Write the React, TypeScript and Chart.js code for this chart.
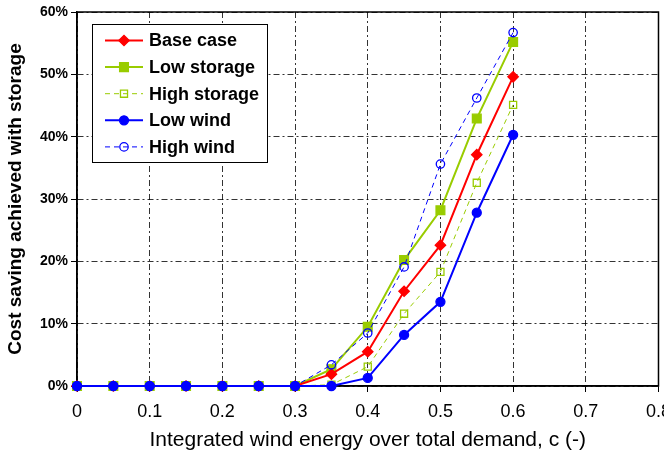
import React, { useEffect, useRef } from 'react';
import { Chart, registerables } from 'chart.js';

Chart.register(...registerables);

const xValues = [0, 0.05, 0.1, 0.15, 0.2, 0.25, 0.3, 0.35, 0.4, 0.45, 0.5, 0.55, 0.6];
const baseCase = [0, 0, 0, 0, 0, 0, 0, 1.9, 5.5, 15.2, 22.6, 37.1, 49.6];
const lowStorage = [0, 0, 0, 0, 0, 0, 0, 2.7, 9.5, 20.2, 28.2, 42.9, 55.2];
const highStorage = [0, 0, 0, 0, 0, 0, 0, 0.2, 3.1, 11.6, 18.3, 32.6, 45.1];
const lowWind = [0, 0, 0, 0, 0, 0, 0, 0, 1.3, 8.2, 13.5, 27.8, 40.3];
const highWind = [0, 0, 0, 0, 0, 0, 0, 3.4, 8.5, 19.1, 35.6, 46.2, 56.7];
const seriesNames = ['Base case', 'Low storage', 'High storage', 'Low wind', 'High wind'];
const xTickValues = [0, 0.1, 0.2, 0.3, 0.4, 0.5, 0.6, 0.7, 0.8];
const yTickValues = [0, 10, 20, 30, 40, 50, 60];
const xTitle = 'Integrated wind energy over total demand, c (-)';
const yTitle = 'Cost saving achieved with storage';

const RED = '#ff0000';
const GREEN = '#99cc00';
const BLUE = '#0000ff';
const FONT = 'Arial, "Liberation Sans", sans-serif';

type Style = {
  color: string;
  width: number;
  dash: number[];
  marker: 'rectRot' | 'rect' | 'circle';
  radius: number;
  filled: boolean;
};

const styles: Style[] = [
  { color: RED, width: 2, dash: [], marker: 'rectRot', radius: 5.2, filled: true },
  { color: GREEN, width: 2, dash: [], marker: 'rect', radius: 6.2, filled: true },
  { color: GREEN, width: 1, dash: [5, 4], marker: 'rect', radius: 5, filled: false },
  { color: BLUE, width: 2, dash: [], marker: 'circle', radius: 4.5, filled: true },
  { color: BLUE, width: 1, dash: [5, 4], marker: 'circle', radius: 4.2, filled: false },
];

const seriesData = [baseCase, lowStorage, highStorage, lowWind, highWind];
const drawOrder = [3, 4, 5, 1, 2];

function drawMarker(ctx: CanvasRenderingContext2D, s: Style, x: number, y: number) {
  ctx.save();
  ctx.setLineDash([]);
  ctx.lineWidth = 1.3;
  ctx.strokeStyle = s.color;
  ctx.fillStyle = s.filled ? s.color : 'rgba(255,255,255,0)';
  ctx.beginPath();
  const r = s.radius;
  if (s.marker === 'circle') {
    ctx.arc(x, y, r, 0, Math.PI * 2);
  } else if (s.marker === 'rect') {
    const h = r * Math.SQRT1_2;
    ctx.rect(x - h, y - h, 2 * h, 2 * h);
  } else {
    ctx.moveTo(x - r, y);
    ctx.lineTo(x, y - r);
    ctx.lineTo(x + r, y);
    ctx.lineTo(x, y + r);
    ctx.closePath();
  }
  if (s.filled) ctx.fill();
  ctx.stroke();
  ctx.restore();
}

const frameAndLegend = {
  id: 'frameAndLegend',
  beforeDatasetsDraw(chart: any) {
    const ctx: CanvasRenderingContext2D = chart.ctx;
    const a = chart.chartArea;
    ctx.save();
    ctx.strokeStyle = '#000';
    ctx.lineWidth = 1.5;
    ctx.setLineDash([]);
    ctx.strokeRect(a.left, a.top, a.right - a.left, a.bottom - a.top);
    ctx.restore();
  },
  afterDraw(chart: any) {
    const ctx: CanvasRenderingContext2D = chart.ctx;
    const a = chart.chartArea;
    ctx.save();
    const bx = a.left + 15;
    const by = a.top + 12;
    const bw = 175;
    const bh = 138;
    ctx.fillStyle = '#fff';
    ctx.fillRect(bx, by, bw, bh);
    ctx.strokeStyle = '#000';
    ctx.lineWidth = 1;
    ctx.setLineDash([]);
    ctx.strokeRect(bx + 0.5, by + 0.5, bw, bh);

    ctx.font = `bold 18px ${FONT}`;
    ctx.textBaseline = 'middle';
    ctx.textAlign = 'left';
    seriesNames.forEach((name, i) => {
      const s = styles[i];
      const cy = by + 16.5 + i * 26.6;
      ctx.save();
      ctx.strokeStyle = s.color;
      ctx.lineWidth = s.width;
      ctx.setLineDash(s.dash);
      ctx.beginPath();
      ctx.moveTo(bx + 13, cy);
      ctx.lineTo(bx + 51, cy);
      ctx.stroke();
      ctx.restore();
      drawMarker(ctx, s, bx + 32, cy);
      ctx.fillStyle = '#000';
      ctx.fillText(name, bx + 57, cy + 1);
    });
    ctx.restore();
  },
};

export default function App() {
  const ref = useRef<HTMLCanvasElement | null>(null);

  useEffect(() => {
    if (!ref.current) return;
    const datasets = seriesNames.map((name, i) => {
      const s = styles[i];
      return {
        label: name,
        data: xValues.map((x, j) => ({ x, y: seriesData[i][j] })),
        borderColor: s.color,
        borderWidth: s.width,
        borderDash: s.dash,
        backgroundColor: s.filled ? s.color : 'rgba(255,255,255,0)',
        pointStyle: s.marker,
        pointRadius: s.radius,
        pointHoverRadius: s.radius,
        pointBorderWidth: 1.3,
        pointBorderColor: s.color,
        pointBackgroundColor: s.filled ? s.color : 'rgba(255,255,255,0)',
        tension: 0,
        fill: false,
        clip: false,
        order: drawOrder[i],
      };
    });

    const chart = new Chart(ref.current, {
      type: 'line',
      data: { datasets },
      options: {
        responsive: false,
        animation: false,
        devicePixelRatio: 1,
        layout: { padding: { left: 0, right: 18, top: 12, bottom: 0 } },
        plugins: {
          legend: { display: false },
          tooltip: { enabled: false },
        },
        scales: {
          x: {
            type: 'linear',
            min: 0,
            max: 0.8,
            afterFit: (scale: any) => {
              scale.height = 76;
            },
            afterBuildTicks: (scale: any) => {
              scale.ticks = xTickValues.map((v) => ({ value: v }));
            },
            ticks: {
              color: '#000',
              font: { family: FONT, size: 18 },
              padding: 9,
              maxRotation: 0,
              autoSkip: false,
              callback: (v: any) => String(Number(v)),
            },
            grid: {
              color: 'rgba(0,0,0,0.8)',
              lineWidth: 1,
              tickLength: 6,
              tickColor: '#000',
              tickBorderDash: [],
            },
            border: { display: true, color: '#000', width: 1.5, dash: [6, 3, 2, 3] },
            title: {
              display: true,
              text: xTitle,
              color: '#000',
              font: { family: FONT, size: 21 },
              padding: { top: 0, bottom: 9 },
            },
          },
          y: {
            type: 'linear',
            min: 0,
            max: 60,
            afterFit: (scale: any) => {
              scale.width = 77;
            },
            afterBuildTicks: (scale: any) => {
              scale.ticks = yTickValues.map((v) => ({ value: v }));
            },
            ticks: {
              color: '#000',
              font: { family: FONT, size: 14, weight: 'bold' },
              padding: 3,
              callback: (v: any) => `${v}%`,
            },
            grid: {
              color: 'rgba(0,0,0,0.8)',
              lineWidth: 1,
              tickLength: 6,
              tickColor: '#000',
              tickBorderDash: [],
            },
            border: { display: true, color: '#000', width: 1.5, dash: [6, 3, 2, 3] },
            title: {
              display: true,
              text: yTitle,
              color: '#000',
              font: { family: FONT, size: 19, weight: 'bold' },
              padding: { top: 4, bottom: 0 },
            },
          },
        },
      },
      plugins: [frameAndLegend],
    } as any);

    return () => chart.destroy();
  }, []);

  return (
    <div
      style={{
        position: 'absolute',
        left: 0,
        top: 0,
        width: 664,
        height: 462,
        overflow: 'hidden',
        background: '#fff',
      }}
    >
      <canvas ref={ref} width={680} height={462} style={{ width: 680, height: 462, display: 'block' }} />
    </div>
  );
}
